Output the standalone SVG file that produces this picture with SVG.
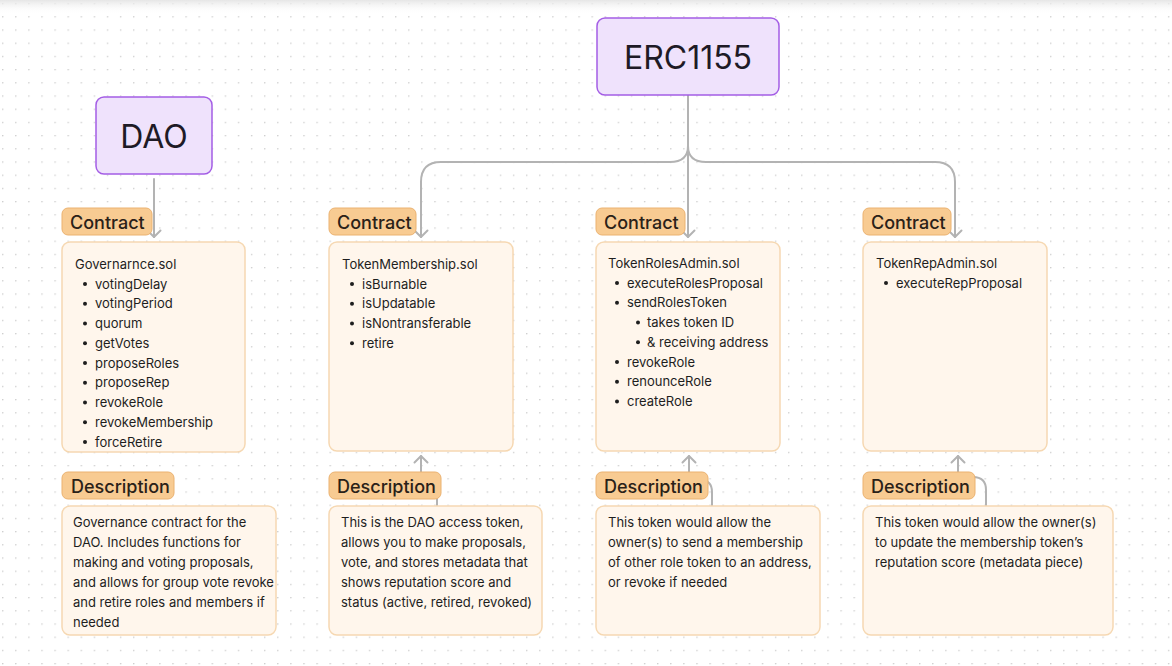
<svg xmlns="http://www.w3.org/2000/svg" width="1172" height="666" viewBox="0 0 1172 666">
<defs>
<pattern id="dots" x="2" y="3" width="13.1" height="13.2" patternUnits="userSpaceOnUse">
<circle cx="0.7" cy="0.7" r="0.75" fill="#c9c9c9"/>
</pattern>
<linearGradient id="topshade" x1="0" y1="0" x2="0" y2="1">
<stop offset="0" stop-color="#e6e6e6"/>
<stop offset="1" stop-color="#ffffff" stop-opacity="0"/>
</linearGradient>
<marker id="arrDown" viewBox="0 0 16 10" refX="8" refY="8" markerWidth="16" markerHeight="10" markerUnits="userSpaceOnUse" orient="0">
<path d="M1.5,1.5 L8,8 L14.5,1.5" fill="none" stroke="#b3b3b3" stroke-width="2" stroke-linecap="round" stroke-linejoin="round"/>
</marker>
<marker id="arrUp" viewBox="0 0 16 10" refX="8" refY="2" markerWidth="16" markerHeight="10" markerUnits="userSpaceOnUse" orient="0">
<path d="M1.5,8.5 L8,2 L14.5,8.5" fill="none" stroke="#b3b3b3" stroke-width="2" stroke-linecap="round" stroke-linejoin="round"/>
</marker>
<style>
.main{fill:#efe2fc;stroke:#a45ee5;stroke-width:1.5}
.maintxt{font-family:Inter,"Noto Sans",sans-serif;font-size:32px;fill:#1e1a26;text-anchor:middle}
.lbl{fill:#f8cb92;stroke:#ebb270;stroke-width:1}
.lbltxt{font-family:Inter,"Noto Sans",sans-serif;font-size:18px;font-weight:500;fill:#2a2118}
.box{fill:#fff6ec;stroke:#f6d8b2;stroke-width:1.5}
.t{font-family:Inter,"Noto Sans",sans-serif;font-size:13px;fill:#1e1e1e}
.conn{fill:none;stroke:#b3b3b3;stroke-width:2;stroke-linecap:round;stroke-linejoin:round}
</style>
</defs>
<rect width="1172" height="666" fill="#ffffff"/>
<rect width="1172" height="666" fill="url(#dots)"/>
<rect width="1172" height="14" fill="url(#topshade)"/>

<g id="connectors">
<path class="conn" d="M154,179 V237" marker-end="url(#arrDown)"/>
<path class="conn" d="M688,86 V237" marker-end="url(#arrDown)"/>
<path class="conn" d="M688,146 Q688,162 670,162 H441 Q421,162 421,182 V237" marker-end="url(#arrDown)"/>
<path class="conn" d="M688,146 Q688,162 706,162 H935 Q955,162 955,182 V237" marker-end="url(#arrDown)"/>
<path class="conn" d="M437,508 V490 Q437,482 429,482 H421 V456" marker-end="url(#arrUp)"/>
<path class="conn" d="M712,508 V492 Q712,480 700,480 H689 V456" marker-end="url(#arrUp)"/>
<path class="conn" d="M986,508 V490 Q986,477 973,477 H958 V456" marker-end="url(#arrUp)"/>
</g>

<g id="dao">
<rect class="main" x="96" y="97" width="116" height="77" rx="8"/>
<text class="maintxt" x="154" y="148">DAO</text>
</g>

<g id="erc1155">
<rect class="main" x="597" y="18" width="182" height="77" rx="8"/>
<text class="maintxt" x="688" y="69">ERC1155</text>
</g>

<g id="governance-contract">
<rect class="box" x="62" y="242" width="183" height="210" rx="8"/>
<rect class="lbl" x="62" y="208" width="90" height="27" rx="6"/>
<text class="lbltxt" x="70" y="229">Contract</text>
<text class="t" x="75" y="269">Governarnce.sol</text>
<circle cx="85" cy="284" r="2" fill="#1e1e1e"/><text class="t" x="95" y="288.5">votingDelay</text>
<circle cx="85" cy="303.8" r="2" fill="#1e1e1e"/><text class="t" x="95" y="308.3">votingPeriod</text>
<circle cx="85" cy="323.5" r="2" fill="#1e1e1e"/><text class="t" x="95" y="328">quorum</text>
<circle cx="85" cy="343.3" r="2" fill="#1e1e1e"/><text class="t" x="95" y="347.8">getVotes</text>
<circle cx="85" cy="363" r="2" fill="#1e1e1e"/><text class="t" x="95" y="367.5">proposeRoles</text>
<circle cx="85" cy="382.8" r="2" fill="#1e1e1e"/><text class="t" x="95" y="387.3">proposeRep</text>
<circle cx="85" cy="402.5" r="2" fill="#1e1e1e"/><text class="t" x="95" y="407">revokeRole</text>
<circle cx="85" cy="422.3" r="2" fill="#1e1e1e"/><text class="t" x="95" y="426.8">revokeMembership</text>
<circle cx="85" cy="442" r="2" fill="#1e1e1e"/><text class="t" x="95" y="446.5">forceRetire</text>
</g>

<g id="membership-contract">
<rect class="box" x="329" y="242" width="184" height="209" rx="8"/>
<rect class="lbl" x="329" y="208" width="87" height="27" rx="6"/>
<text class="lbltxt" x="337" y="229">Contract</text>
<text class="t" x="342" y="269">TokenMembership.sol</text>
<circle cx="352" cy="284" r="2" fill="#1e1e1e"/><text class="t" x="362" y="288.5">isBurnable</text>
<circle cx="352" cy="303.8" r="2" fill="#1e1e1e"/><text class="t" x="362" y="308.3">isUpdatable</text>
<circle cx="352" cy="323.5" r="2" fill="#1e1e1e"/><text class="t" x="362" y="328">isNontransferable</text>
<circle cx="352" cy="343.3" r="2" fill="#1e1e1e"/><text class="t" x="362" y="347.8">retire</text>
</g>

<g id="rolesadmin-contract">
<rect class="box" x="596" y="242" width="184" height="209" rx="8"/>
<rect class="lbl" x="596" y="208" width="89" height="27" rx="6"/>
<text class="lbltxt" x="604" y="229">Contract</text>
<text class="t" x="608" y="268">TokenRolesAdmin.sol</text>
<circle cx="617" cy="283" r="2" fill="#1e1e1e"/><text class="t" x="627" y="287.5">executeRolesProposal</text>
<circle cx="617" cy="302.8" r="2" fill="#1e1e1e"/><text class="t" x="627" y="307.3">sendRolesToken</text>
<circle cx="638" cy="322.5" r="2" fill="#1e1e1e"/><text class="t" x="647" y="327">takes token ID</text>
<circle cx="638" cy="342.3" r="2" fill="#1e1e1e"/><text class="t" x="647" y="346.8">&amp; receiving address</text>
<circle cx="617" cy="362" r="2" fill="#1e1e1e"/><text class="t" x="627" y="366.5">revokeRole</text>
<circle cx="617" cy="381.8" r="2" fill="#1e1e1e"/><text class="t" x="627" y="386.3">renounceRole</text>
<circle cx="617" cy="401.5" r="2" fill="#1e1e1e"/><text class="t" x="627" y="406">createRole</text>
</g>

<g id="repadmin-contract">
<rect class="box" x="863" y="242" width="184" height="209" rx="8"/>
<rect class="lbl" x="863" y="208" width="88" height="27" rx="6"/>
<text class="lbltxt" x="871" y="229">Contract</text>
<text class="t" x="876" y="268">TokenRepAdmin.sol</text>
<circle cx="886" cy="283" r="2" fill="#1e1e1e"/><text class="t" x="896" y="287.5">executeRepProposal</text>
</g>

<g id="governance-description">
<rect class="box" x="62" y="506" width="214" height="129" rx="8"/>
<rect class="lbl" x="62" y="472" width="112" height="27" rx="6"/>
<text class="lbltxt" x="71" y="493">Description</text>
<text class="t" x="73" y="526.5">Governance contract for the</text>
<text class="t" x="73" y="546.5">DAO. Includes functions for</text>
<text class="t" x="73" y="566.5">making and voting proposals,</text>
<text class="t" x="73" y="586.5">and allows for group vote revoke</text>
<text class="t" x="73" y="606.5">and retire roles and members if</text>
<text class="t" x="73" y="626.5">needed</text>
</g>

<g id="membership-description">
<rect class="box" x="329" y="506" width="213" height="129" rx="8"/>
<rect class="lbl" x="329" y="472" width="112" height="27" rx="6"/>
<text class="lbltxt" x="337" y="493">Description</text>
<text class="t" x="341" y="526.5">This is the DAO access token,</text>
<text class="t" x="341" y="546.5">allows you to make proposals,</text>
<text class="t" x="341" y="566.5">vote, and stores metadata that</text>
<text class="t" x="341" y="586.5">shows reputation score and</text>
<text class="t" x="341" y="606.5">status (active, retired, revoked)</text>
</g>

<g id="rolesadmin-description">
<rect class="box" x="596" y="506" width="224" height="129" rx="8"/>
<rect class="lbl" x="596" y="472" width="112" height="27" rx="6"/>
<text class="lbltxt" x="604" y="493">Description</text>
<text class="t" x="608" y="526.5">This token would allow the</text>
<text class="t" x="608" y="546.5">owner(s) to send a membership</text>
<text class="t" x="608" y="566.5">of other role token to an address,</text>
<text class="t" x="608" y="586.5">or revoke if needed</text>
</g>

<g id="repadmin-description">
<rect class="box" x="863" y="506" width="250" height="129" rx="8"/>
<rect class="lbl" x="863" y="472" width="112" height="27" rx="6"/>
<text class="lbltxt" x="871" y="493">Description</text>
<text class="t" x="875" y="526.5">This token would allow the owner(s)</text>
<text class="t" x="875" y="546.5">to update the membership token’s</text>
<text class="t" x="875" y="566.5">reputation score (metadata piece)</text>
</g>
</svg>
